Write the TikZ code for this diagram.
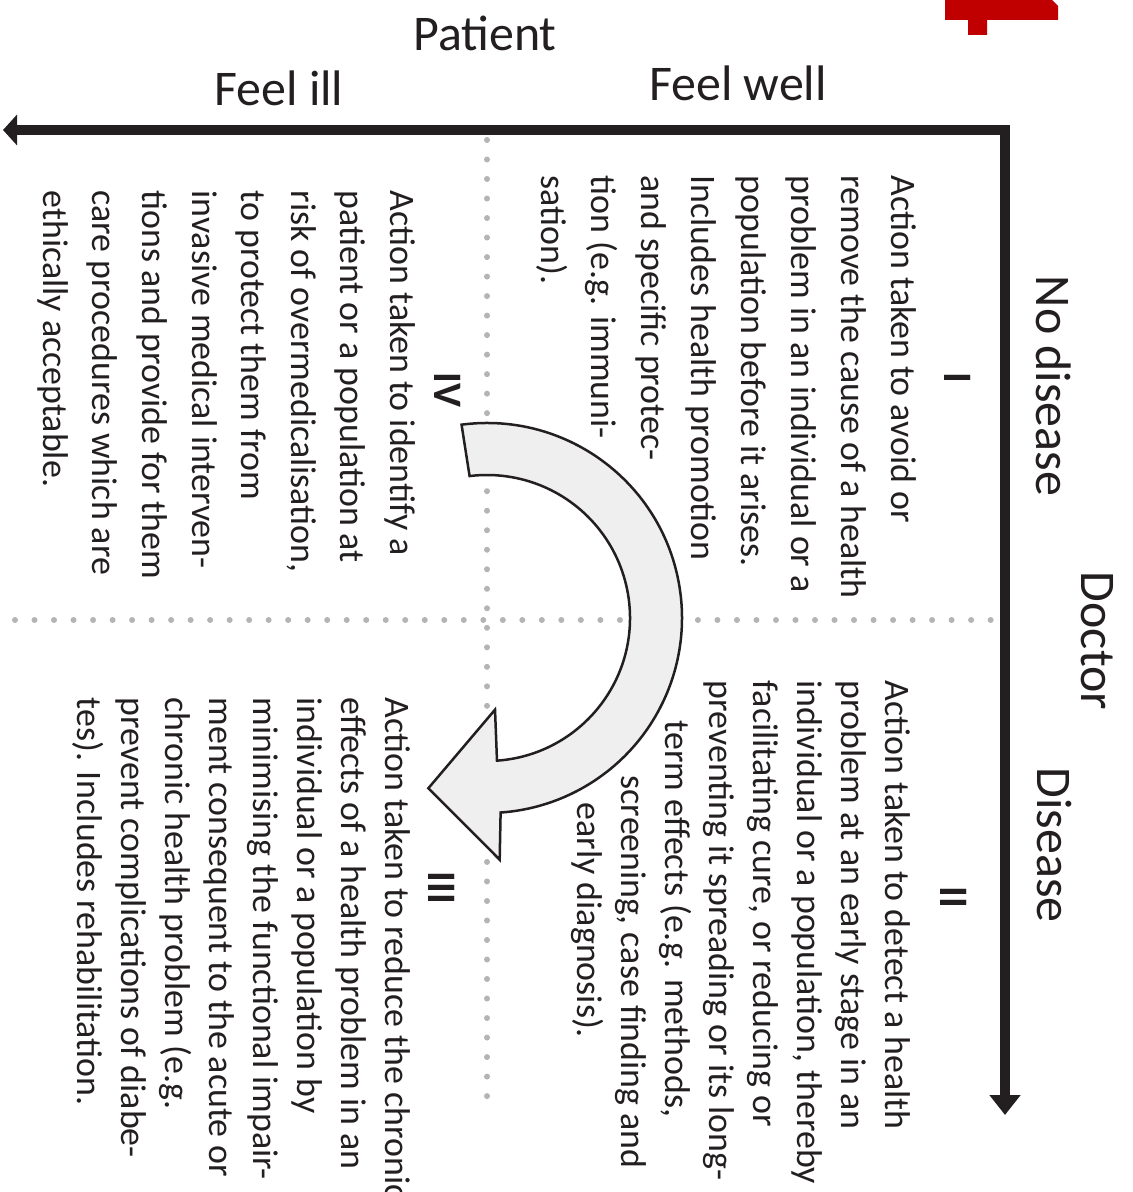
\documentclass[tikz,border=0pt]{standalone}
\usepackage{fontspec}
\setmainfont{Carlito}
\usetikzlibrary{calc,arrows.meta}
\definecolor{inkdark}{HTML}{231F20}
\definecolor{dotgray}{HTML}{B4B4B4}
\definecolor{arrowfill}{HTML}{EFEFEF}
\definecolor{flagred}{HTML}{C00000}
\tikzset{
  axisline/.style={line width=0.1cm, color=inkdark, line join=miter},
  dotline/.style={dotgray, line width=0.06cm, line cap=round, dash pattern=on 0pt off 0.195cm},
  quadtext/.style={rotate=-90, anchor=north west, inner sep=0pt, align=left,
    font=\fontsize{10.2}{#1}\selectfont, text=inkdark},
  quadlabel/.style={rotate=-90, inner sep=0pt, font=\fontsize{11.5}{11.5}\selectfont\bfseries, text=inkdark},
  axislabel/.style={inner sep=0pt, font=\fontsize{14.2}{14.2}\selectfont, text=inkdark},
  turnarrow/.style={fill=arrowfill, draw=inkdark, line width=0.025cm, line join=miter}
}

\begin{document}
\begin{tikzpicture}[x=0.01cm, y=-0.01cm]
		%%%%% START %%%%%
		\useasboundingbox (0, 0) rectangle (1132, 1192);
		
		% red mark, cut by the top edge
		\fill[flagred] (945, 0) -- (1052, 0) -- (1058, 6) -- (1058, 20) -- (987, 20) -- (987, 35) -- (968, 35) -- (968, 20) -- (945, 20) -- cycle;
		
		% dotted cross
		\draw[dotline] (487, 140) -- (487, 1110);
		\draw[dotline] (15, 620) -- (995, 620);
		
		% axes
		\coordinate (corner) at (1005, 130);
		\coordinate (pleft) at (3, 130);
		\coordinate (dbottom) at (1005, 1115);
		\draw[axisline, {Triangle[length=0.14cm, width=0.3cm]}-{Triangle[length=0.2cm, width=0.3cm]}] (pleft) -- (corner) -- (dbottom);
		
		\node[axislabel] (patient) at (485, 33) {Patient};
		\node[axislabel] (feelill) at (279, 88) {Feel ill};
		\node[axislabel] (feelwell) at (738, 83) {Feel well};
		\node[axislabel, rotate=-90] (nodisease) at (1054, 386) {No disease};
		\node[axislabel, rotate=-90] (doctor) at (1097, 641) {Doctor};
		\node[axislabel, rotate=-90] (disease) at (1054, 845) {Disease};
		
		% curved arrow
		\coordinate (turn) at (487, 618);
		\draw[turnarrow] ($(turn)+(-97.5:195)$) arc[start angle=-97.5, end angle=86, radius=195]
			-- ($(turn)+(87:242)$) -- ($(turn)+(109:180)$) -- ($(turn)+(85:92)$)
			-- ($(turn)+(86:143)$) arc[start angle=86, end angle=-97, radius=143] -- cycle;
		
		% quadrants
		\node[quadlabel] (lone) at (958, 378) {I};
		\node[quadlabel] (ltwo) at (954, 897) {II};
		\node[quadlabel] (lthree) at (442, 888) {III};
		\node[quadlabel] (lfour) at (448, 390) {IV};
		
		\node[quadtext=14.2pt] (qone) at (917, 175) {Action taken to avoid or\\remove the cause of a health\\problem in an individual or a\\population before it arises.\\Includes health promotion\\and specific protec-\\tion (e.g. immuni-\\sation).};
		\node[quadtext=12.5pt] (qtwo) at (911, 680) {Action taken to detect a health\\problem at an early stage in an\\individual or a population, thereby\\facilitating cure, or reducing or\\preventing it spreading or its long-\\\hspace*{0.4cm}term effects (e.g. methods,\\\hspace*{0.95cm}screening, case finding and\\\hspace*{1.22cm}early diagnosis).};
		\node[quadtext=12.5pt] (qthree) at (411, 697) {Action taken to reduce the chronic\\effects of a health problem in an\\individual or a population by\\minimising the functional impair-\\ment consequent to the acute or\\chronic health problem (e.g.\\prevent complications of diabe-\\tes). Includes rehabilitation.};
		\node[quadtext=14.1pt] (qfour) at (416, 190) {Action taken to identify a\\patient or a population at\\risk of overmedicalisation,\\to protect them from\\invasive medical interven-\\tions and provide for them\\care procedures which are\\ethically acceptable.};
		
		%%%%% END %%%%%
\end{tikzpicture}
\end{document}
